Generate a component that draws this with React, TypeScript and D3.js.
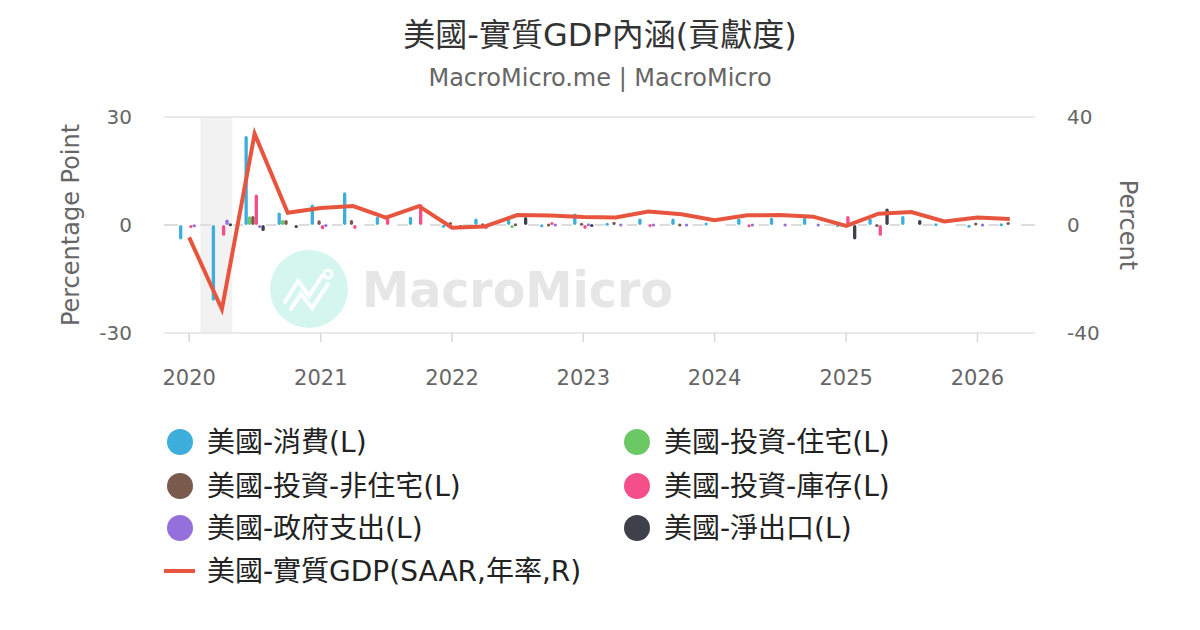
import React, { useEffect, useRef } from "react";
import * as d3 from "d3";

// quarterly observations, dated at the start of the quarter
const quarters = [
  "2020-01-01", "2020-04-01", "2020-07-01", "2020-10-01",
  "2021-01-01", "2021-04-01", "2021-07-01", "2021-10-01",
  "2022-01-01", "2022-04-01", "2022-07-01", "2022-10-01",
  "2023-01-01", "2023-04-01", "2023-07-01", "2023-10-01",
  "2024-01-01", "2024-04-01", "2024-07-01", "2024-10-01",
  "2025-01-01", "2025-04-01", "2025-07-01", "2025-10-01",
  "2026-01-01", "2026-04-01",
];

// contributions, percentage points (left axis)
const consumption = [-4.0, -21.0, 24.7, 3.5, 5.7, 9.1, 2.3, 2.3, 0.1, 1.8, 1.6, 0.2, 3.2, 0.6, 1.8, 1.8, 0.7, 1.8, 2.0, 2.0, 0.3, 1.8, 2.5, 0.5, 0.1, 0.5];
const residential = [0, 0, 2.4, 1.4, 0, 0, 0, 0, 0, 0, -0.4, 0, 0, 0, 0, 0, 0, 0, 0, 0, 0, 0, 0, 0, 0, 0];
const nonResidential = [0, 0, 2.5, 1.4, 1.3, 1.4, 0, 0, 0.8, 0.5, 0.5, 0.4, 0.6, 0.9, 0, 0.4, 0, 0, 0, 0, 0, 0.3, 0, 0, 0.7, 0.8];
const inventory = [-0.6, -3.0, 8.5, 0, -1.2, -1.1, 2.3, 5.8, 0, -1.1, 0, 0.8, -1.1, 0, 0.3, 0, 0, 0.2, 0, 0, 2.5, -3.0, 0, 0, 0, 0];
const government = [0.2, 1.5, -0.3, 0, 0.3, 0, 0, 0, 0, 0, 0, 0.4, 0.5, 0.4, 0.4, 0.4, 0, 0.4, 0.4, 0.4, 0, 0, 0, 0, 0.4, 0];
const netExports = [0, 0.5, -1.7, -0.4, 0, 0, 0, 0, -0.3, 0, 2.2, 0, 0.3, 0, 0, 0, 0, 0, 0, 0, -4.0, 4.6, 1.4, 0, 0, 0];

// real GDP, SAAR % (right axis)
const realGdp = [-4.6, -31.2, 33.8, 4.5, 6.3, 7.0, 2.7, 7.0, -1.0, -0.6, 3.7, 3.5, 3.0, 2.8, 5.0, 4.0, 1.8, 3.6, 3.7, 3.1, -0.3, 4.2, 4.8, 1.3, 2.8, 2.2];

const seriesNames = [
  "美國-消費(L)",
  "美國-投資-住宅(L)",
  "美國-投資-非住宅(L)",
  "美國-投資-庫存(L)",
  "美國-政府支出(L)",
  "美國-淨出口(L)",
];
const seriesColors = ["#3daedc", "#6cc865", "#7b5a4e", "#f44f89", "#9570dc", "#3e4149"];
const gdpName = "美國-實質GDP(SAAR,年率,R)";
const gdpColor = "#e8553e";

const leftTicks = [-30, 0, 30];
const rightTicks = [-40, 0, 40];
const recession = ["2020-02-01", "2020-04-30"];

const FONT = "'DejaVu Sans', 'Noto Sans CJK TC', sans-serif";

const App: React.FC = () => {
  const svgRef = useRef<SVGSVGElement | null>(null);
  const width = 1200;
  const height = 630;

  useEffect(() => {
    if (!svgRef.current) return;
    const svg = d3.select(svgRef.current);
    svg.selectAll("*").remove();

    const plot = { left: 164, right: 1035, top: 117, bottom: 333 };
    const parse = d3.utcParse("%Y-%m-%d");
    const dates = quarters.map((q) => parse(q) as Date);

    const x = d3
      .scaleUtc()
      .domain([parse("2019-10-23") as Date, parse("2026-06-10") as Date])
      .range([plot.left, plot.right]);
    const yL = d3.scaleLinear().domain([-30, 30]).range([plot.bottom, plot.top]);
    const yR = d3.scaleLinear().domain([-40, 40]).range([plot.bottom, plot.top]);

    const series = [consumption, residential, nonResidential, inventory, government, netExports];
    const step = x(dates[1]) - x(dates[0]);
    const groupW = step * 0.62;
    const inner = d3.scaleBand<number>().domain(d3.range(series.length)).range([-groupW / 2, groupW / 2]).paddingInner(0.02);

    // title
    svg
      .append("text")
      .attr("x", width / 2)
      .attr("y", 46)
      .attr("text-anchor", "middle")
      .style("font-family", FONT)
      .style("font-size", "32px")
      .attr("fill", "#333")
      .text("美國-實質GDP內涵(貢獻度)");
    svg
      .append("text")
      .attr("x", width / 2)
      .attr("y", 86)
      .attr("text-anchor", "middle")
      .style("font-family", FONT)
      .style("font-size", "24px")
      .attr("fill", "#666")
      .text("MacroMicro.me | MacroMicro");

    // recession band
    svg
      .append("rect")
      .attr("x", x(parse(recession[0]) as Date))
      .attr("width", x(parse(recession[1]) as Date) - x(parse(recession[0]) as Date))
      .attr("y", plot.top)
      .attr("height", plot.bottom - plot.top)
      .attr("fill", "#f2f2f2");

    // grid lines
    leftTicks
      .filter((t) => t !== 0)
      .forEach((t) => {
        svg
          .append("line")
          .attr("x1", plot.left)
          .attr("x2", plot.right)
          .attr("y1", yL(t))
          .attr("y2", yL(t))
          .attr("stroke", "#e3e3e3")
          .attr("stroke-width", 1.5);
      });

    // zero line, visible between the column groups
    const gaps: [number, number][] = [[plot.left, x(dates[0]) - groupW / 2 - 1]];
    dates.forEach((d, i) => {
      const start = x(d) + groupW / 2 + 1;
      const end = i < dates.length - 1 ? x(dates[i + 1]) - groupW / 2 - 1 : plot.right;
      gaps.push([start, end]);
    });
    gaps.forEach(([a, b]) => {
      svg
        .append("line")
        .attr("x1", a)
        .attr("x2", b)
        .attr("y1", yL(0))
        .attr("y2", yL(0))
        .attr("stroke", "#dcdcdc")
        .attr("stroke-width", 2);
    });

    // x axis ticks
    const years = x.ticks(d3.utcYear.every(1) as d3.TimeInterval);
    years.forEach((yr) => {
      svg
        .append("line")
        .attr("x1", x(yr))
        .attr("x2", x(yr))
        .attr("y1", plot.bottom)
        .attr("y2", plot.bottom + 9)
        .attr("stroke", "#d8d8d8")
        .attr("stroke-width", 1.5);
      svg
        .append("text")
        .attr("x", x(yr))
        .attr("y", 385)
        .attr("text-anchor", "middle")
        .style("font-family", FONT)
        .style("font-size", "21px")
        .attr("fill", "#666")
        .text(d3.utcFormat("%Y")(yr));
    });

    // y axis labels
    leftTicks.forEach((t) => {
      svg
        .append("text")
        .attr("x", 132)
        .attr("y", yL(t))
        .attr("dy", "0.35em")
        .attr("text-anchor", "end")
        .style("font-family", FONT)
        .style("font-size", "20px")
        .attr("fill", "#666")
        .text(t);
    });
    rightTicks.forEach((t) => {
      svg
        .append("text")
        .attr("x", 1067)
        .attr("y", yR(t))
        .attr("dy", "0.35em")
        .attr("text-anchor", "start")
        .style("font-family", FONT)
        .style("font-size", "20px")
        .attr("fill", "#666")
        .text(t);
    });
    svg
      .append("text")
      .attr("transform", `translate(79, ${(plot.top + plot.bottom) / 2}) rotate(-90)`)
      .attr("text-anchor", "middle")
      .style("font-family", FONT)
      .style("font-size", "24px")
      .attr("fill", "#666")
      .text("Percentage Point");
    svg
      .append("text")
      .attr("transform", `translate(1120, ${(plot.top + plot.bottom) / 2}) rotate(90)`)
      .attr("text-anchor", "middle")
      .style("font-family", FONT)
      .style("font-size", "24px")
      .attr("fill", "#666")
      .text("Percent");

    // watermark
    const wm = svg.append("g");
    wm.append("circle").attr("cx", 309).attr("cy", 289).attr("r", 39).attr("fill", "#d5f6ef");
    wm.append("path")
      .attr("d", "M285,302 L298,281 L309,296 L322,276 M291,309 L301,294 L312,308 L328,284")
      .attr("fill", "none")
      .attr("stroke", "#fff")
      .attr("stroke-width", 4)
      .attr("stroke-linecap", "round");
    wm.append("circle").attr("cx", 328).attr("cy", 274).attr("r", 4).attr("fill", "none").attr("stroke", "#fff").attr("stroke-width", 3);
    wm.append("text")
      .attr("x", 362)
      .attr("y", 307)
      .attr("textLength", 311)
      .attr("lengthAdjust", "spacingAndGlyphs")
      .style("font-family", FONT)
      .style("font-size", "49px")
      .style("font-weight", "bold")
      .attr("fill", "#e6e6e6")
      .text("MacroMicro");

    // columns
    series.forEach((vals, si) => {
      svg
        .append("g")
        .selectAll("rect")
        .data(vals.map((v, i) => ({ v, d: dates[i] })).filter((p) => p.v !== 0))
        .join("rect")
        .attr("x", (p) => x(p.d) + (inner(si) as number))
        .attr("width", inner.bandwidth())
        .attr("y", (p) => Math.min(yL(p.v), yL(0)))
        .attr("height", (p) => Math.max(3, Math.abs(yL(p.v) - yL(0))))
        .attr("rx", inner.bandwidth() / 2)
        .attr("fill", seriesColors[si]);
    });

    // GDP line
    const line = d3
      .line<number>()
      .x((_, i) => x(dates[i]))
      .y((v) => yR(v));
    svg
      .append("path")
      .datum(realGdp)
      .attr("d", line)
      .attr("fill", "none")
      .attr("stroke", gdpColor)
      .attr("stroke-width", 4);

    // legend
    const colX = [180, 637];
    const rowY = [442, 486, 528, 571];
    seriesNames.forEach((name, i) => {
      const cx = colX[i % 2];
      const cy = rowY[Math.floor(i / 2)];
      svg.append("circle").attr("cx", cx).attr("cy", cy).attr("r", 13).attr("fill", seriesColors[i]);
      svg
        .append("text")
        .attr("x", cx + 27)
        .attr("y", cy)
        .attr("dy", "0.36em")
        .style("font-family", FONT)
        .style("font-size", "28px")
        .attr("fill", "#222")
        .text(name);
    });
    svg
      .append("line")
      .attr("x1", colX[0] - 16)
      .attr("x2", colX[0] + 15)
      .attr("y1", rowY[3])
      .attr("y2", rowY[3])
      .attr("stroke", gdpColor)
      .attr("stroke-width", 4);
    svg
      .append("text")
      .attr("x", colX[0] + 27)
      .attr("y", rowY[3])
      .attr("dy", "0.36em")
      .style("font-family", FONT)
      .style("font-size", "28px")
      .attr("fill", "#222")
      .text(gdpName);
  }, []);

  return (
    <svg
      ref={svgRef}
      width={width}
      height={height}
      style={{ position: "absolute", left: 0, top: 0, background: "#fff" }}
    />
  );
};

export default App;
